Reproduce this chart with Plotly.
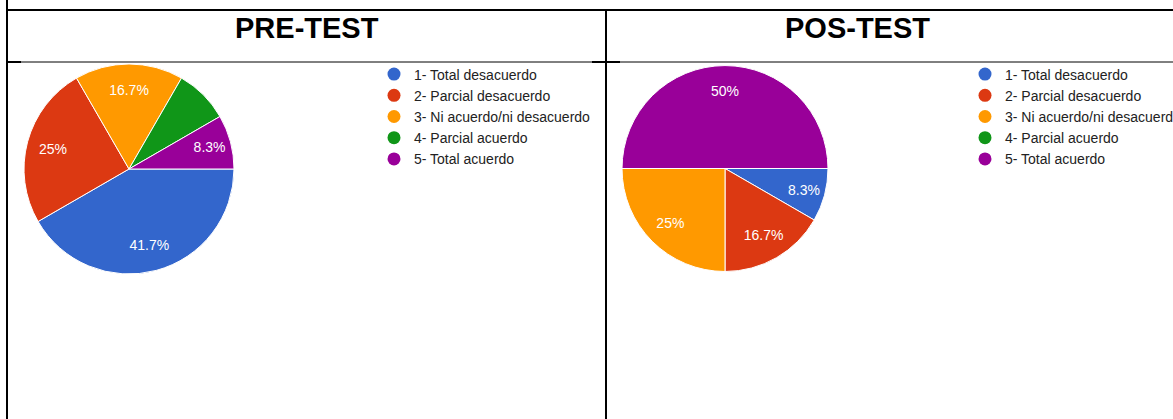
import plotly.graph_objects as go

# Survey answer categories and their colours
categories = [
    "1- Total desacuerdo",
    "2- Parcial desacuerdo",
    "3- Ni acuerdo/ni desacuerdo",
    "4- Parcial acuerdo",
    "5- Total acuerdo",
]
colors = ["#3366CC", "#DC3912", "#FF9900", "#109618", "#990099"]

# Response counts per category (12 respondents)
pre_counts = [5, 3, 2, 1, 1]
post_counts = [1, 2, 3, 0, 6]

# Slice labels shown on the pies
pre_labels = ["41.7%", "25%", "16.7%", "", "8.3%"]
post_labels = ["8.3%", "16.7%", "25%", "", "50%"]

headers = ["PRE-TEST", "POS-TEST"]

W, H = 1173, 419


def px_x(v):
    return v / W


def px_y(v):
    return 1 - v / H


fig = go.Figure()

slice_common = dict(
    sort=False,
    direction="clockwise",
    rotation=90,
    showlegend=False,
)
label_font = dict(color="white", size=14, family="Arial, Liberation Sans")

pies = [
    (pre_counts, pre_labels, dict(x=[px_x(24), px_x(234)], y=[px_y(274), px_y(64)])),
    (post_counts, post_labels, dict(x=[px_x(622), px_x(828)], y=[px_y(272), px_y(65)])),
]

for counts, labels, domain in pies:
    # coloured slices
    fig.add_trace(go.Pie(
        labels=categories, values=counts, domain=domain,
        marker=dict(colors=colors, line=dict(color="white", width=1)),
        textinfo="none", hoverinfo="label+percent",
        **slice_common,
    ))
    # transparent ring on top that carries the percentage labels
    fig.add_trace(go.Pie(
        labels=categories, values=counts, domain=domain, hole=0.5,
        marker=dict(colors=["rgba(0,0,0,0)"] * len(categories), line=dict(width=0)),
        text=labels, textinfo="text", textposition="inside",
        insidetextorientation="horizontal", textfont=label_font,
        hoverinfo="skip",
        **slice_common,
    ))

# Circle-marker legend entries for each pie
for legend_name in ["legend", "legend2"]:
    for cat, col in zip(categories, colors):
        fig.add_trace(go.Scatter(
            x=[None], y=[None], mode="markers", name=cat,
            marker=dict(symbol="circle", size=13, color=col),
            legend=legend_name, showlegend=True, hoverinfo="skip",
        ))

legend_common = dict(
    xanchor="left", yanchor="top",
    font=dict(size=14, color="#222222", family="Arial, Liberation Sans"),
    bgcolor="rgba(0,0,0,0)", borderwidth=0, itemwidth=30,
    tracegroupgap=0, orientation="v",
)

# Table grid lines
line_dark = "#000000"
shapes = [
    dict(type="line", x0=px_x(6), x1=1, y0=px_y(10), y1=px_y(10), line=dict(color=line_dark, width=2)),
    dict(type="line", x0=px_x(7), x1=px_x(7), y0=px_y(0), y1=px_y(419), line=dict(color=line_dark, width=2)),
    dict(type="line", x0=px_x(606), x1=px_x(606), y0=px_y(10), y1=px_y(419), line=dict(color=line_dark, width=2)),
    dict(type="line", x0=px_x(7), x1=1, y0=px_y(62), y1=px_y(62), line=dict(color=line_dark, width=1)),
    dict(type="line", x0=px_x(7), x1=px_x(21), y0=px_y(62), y1=px_y(62), line=dict(color=line_dark, width=2)),
    dict(type="line", x0=px_x(592), x1=px_x(620), y0=px_y(62), y1=px_y(62), line=dict(color=line_dark, width=2)),
]
for s in shapes:
    s.update(xref="paper", yref="paper", layer="above")

header_font = dict(size=29, color="black", family="Arial, Liberation Sans", weight="bold")
annotations = [
    dict(text=headers[0], x=px_x(307), y=px_y(28), xref="paper", yref="paper",
         xanchor="center", yanchor="middle", showarrow=False, font=header_font),
    dict(text=headers[1], x=px_x(857), y=px_y(28), xref="paper", yref="paper",
         xanchor="center", yanchor="middle", showarrow=False, font=header_font),
]

fig.update_layout(
    width=W, height=H,
    # keep the plot area fixed: the right legend runs past the page edge
    margin=dict(l=0, r=0, t=0, b=0, autoexpand=False),
    paper_bgcolor="white", plot_bgcolor="white",
    xaxis=dict(visible=False), yaxis=dict(visible=False),
    legend=dict(x=px_x(374), y=px_y(58.5), **legend_common),
    legend2=dict(x=px_x(965), y=px_y(58.5), **legend_common),
    shapes=shapes,
    annotations=annotations,
)

fig.write_html("out.html")
